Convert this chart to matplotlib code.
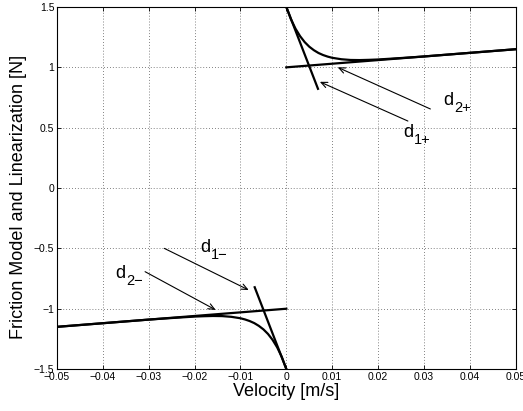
import matplotlib.pyplot as plt

plt.rcParams['font.family'] = ['Liberation Sans', 'DejaVu Sans']

# friction model (positive velocity branch)
v_pos = [0.0, 0.001, 0.002, 0.003, 0.004, 0.005, 0.006, 0.007, 0.008, 0.009,
         0.010, 0.012, 0.014, 0.016, 0.018, 0.020, 0.025, 0.030, 0.040, 0.050]
f_pos = [1.500, 1.399, 1.320, 1.258, 1.209, 1.171, 1.142, 1.119, 1.102, 1.089,
         1.079, 1.067, 1.061, 1.060, 1.062, 1.065, 1.077, 1.090, 1.120, 1.150]

# negative velocity branch
v_neg = [0.0, -0.001, -0.002, -0.003, -0.004, -0.005, -0.006, -0.007, -0.008, -0.009,
         -0.010, -0.012, -0.014, -0.016, -0.018, -0.020, -0.025, -0.030, -0.040, -0.050]
f_neg = [-1.500, -1.399, -1.320, -1.258, -1.209, -1.171, -1.142, -1.119, -1.102, -1.089,
         -1.079, -1.067, -1.061, -1.060, -1.062, -1.065, -1.077, -1.090, -1.120, -1.150]

# linearizations (end points)
d1p_v = [0.0, 0.0069]
d1p_f = [1.5, 0.822]
d2p_v = [0.0, 0.05]
d2p_f = [1.0, 1.15]
d1m_v = [0.0, -0.0069]
d1m_f = [-1.5, -0.822]
d2m_v = [0.0, -0.05]
d2m_f = [-1.0, -1.15]

# annotations: subscript, text position (baseline of "d"), arrow tail, arrow head
subs = ['2+', '1+', '2\u2212', '1\u2212']
text_xy = [(0.0343, 0.688), (0.0255, 0.423), (-0.0373, -0.745), (-0.0188, -0.530)]
tail_xy = [(0.0314, 0.655), (0.0265, 0.555), (-0.0308, -0.693), (-0.0266, -0.500)]
head_xy = [(0.0112, 1.000), (0.0073, 0.880), (-0.0154, -1.010), (-0.0082, -0.845)]

xticks = [-0.05, -0.04, -0.03, -0.02, -0.01, 0, 0.01, 0.02, 0.03, 0.04, 0.05]
xticklabels = ['\u22120.05', '\u22120.04', '\u22120.03', '\u22120.02', '\u22120.01', '0',
               '0.01', '0.02', '0.03', '0.04', '0.05']
yticks = [-1.5, -1, -0.5, 0, 0.5, 1, 1.5]
yticklabels = ['\u22121.5', '\u22121', '\u22120.5', '0', '0.5', '1', '1.5']

fig = plt.figure(figsize=(5.23, 4.11), dpi=100)
ax = fig.add_axes([0.109, 0.102, 0.877, 0.881])

lw = 1.6
ax.plot(v_pos, f_pos, color='black', lw=lw)
ax.plot(v_neg, f_neg, color='black', lw=lw)
ax.plot(d1p_v, d1p_f, color='black', lw=lw)
ax.plot(d2p_v, d2p_f, color='black', lw=lw)
ax.plot(d1m_v, d1m_f, color='black', lw=lw)
ax.plot(d2m_v, d2m_f, color='black', lw=lw)

for sub, txy, t, h in zip(subs, text_xy, tail_xy, head_xy):
    ax.annotate('', xy=h, xytext=t,
                arrowprops=dict(arrowstyle='->,head_length=0.45,head_width=0.2',
                                color='black', lw=0.8, shrinkA=0, shrinkB=0))
    ax.text(txy[0], txy[1], 'd', fontsize=13, va='baseline', ha='left')
    # subscript, shifted right and down from the "d"
    ax.annotate(sub, xy=txy, xytext=(7.6, -5.2), textcoords='offset points',
                fontsize=10.5, va='baseline', ha='left')

ax.set_xlim(-0.05, 0.05)
ax.set_ylim(-1.5, 1.5)
ax.set_xticks(xticks)
ax.set_xticklabels(xticklabels)
ax.set_yticks(yticks)
ax.set_yticklabels(yticklabels)
ax.tick_params(direction='in', length=3, width=0.6, labelsize=7.5,
               top=True, right=True, pad=2)
ax.grid(True, linestyle=(0, (1, 2.5)), color='0.35', lw=0.6)
for s in ax.spines.values():
    s.set_linewidth(0.8)

ax.set_xlabel('Velocity [m/s]', fontsize=13, labelpad=1)
ax.set_ylabel('Friction Model and Linearization [N]', fontsize=13)
ax.yaxis.set_label_coords(-0.065, 0.475)

fig.savefig('out.png', dpi=100)
